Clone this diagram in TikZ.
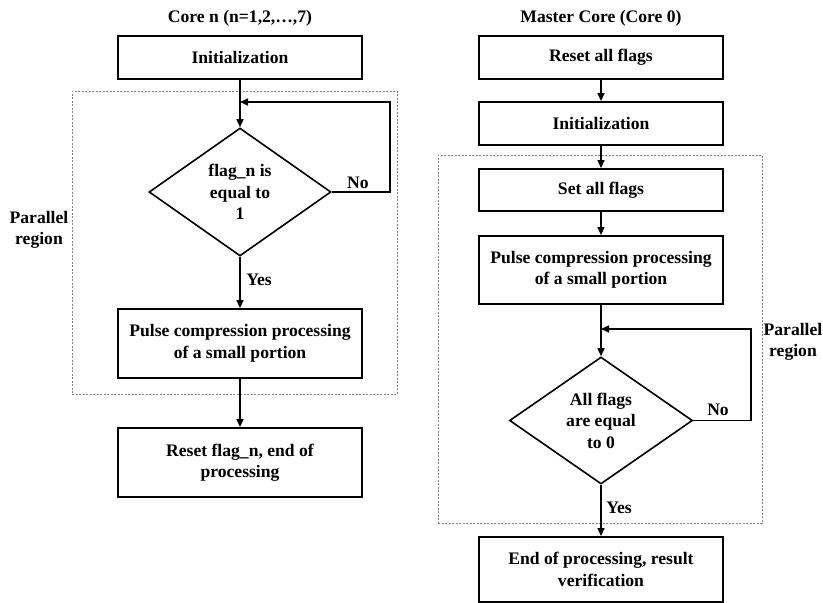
\documentclass[tikz,border=0pt]{standalone}
\usepackage{fontspec}
\setmainfont{Liberation Serif}
\usetikzlibrary{shapes.geometric,arrows.meta}
\begin{document}
\begin{tikzpicture}[x=1pt,y=-1pt,
  every node/.style={font=\fontsize{17.6}{21.5}\selectfont\bfseries},
  procbox/.style={draw,line width=1.9pt,minimum width=244pt,align=center,inner sep=0pt},
  decbox/.style={draw,diamond,line width=1.6pt,inner sep=0pt,aspect=1.42,align=center},
  region/.style={draw=gray,dash pattern=on 2pt off 1.5pt,line width=0.7pt},
  flow/.style={line width=1.6pt,-{Triangle[length=8pt,width=7pt]}},
  lbl/.style={inner sep=0pt}]
\useasboundingbox (0,0) rectangle (823,603);
% regions
\node[region,minimum width=325pt,minimum height=303pt,inner sep=0pt] (lreg) at (234.5,242.5) {};
\node[region,minimum width=324pt,minimum height=368pt,inner sep=0pt] (rreg) at (600,339) {};
% left column
\node[lbl] (ltitle) at (240,18) {Core n (n=1,2,\dots,7)};
\node[procbox,minimum height=43pt] (linit) at (240,57.5) {Initialization};
\node[decbox,minimum width=182pt,minimum height=128pt] (ldec) at (240,192) {flag\_n is\\equal to\\1};
\node[procbox,minimum height=69pt] (lpulse) at (240,343.5) {Pulse compression processing\\of a small portion};
\node[procbox,minimum height=69pt] (lreset) at (240,462.5) {Reset flag\_n, end of\\processing};
\node[lbl,align=center] (lpar) at (39,230) {Parallel\\region};
\coordinate (lcorner) at (390,102);
\coordinate (ljoin) at (240,102);
\draw[flow] (linit.south) -- (ldec.north);
\draw[flow] (ldec.east) -| (lcorner) -- (ljoin);
\draw[flow] (ldec.south) -- (lpulse.north);
\draw[flow] (lpulse.south) -- (lreset.north);
\node[lbl] (lno) at (358,183) {No};
\node[lbl] (lyes) at (259,280) {Yes};
% right column
\node[lbl] (rtitle) at (601,18) {Master Core (Core 0)};
\node[procbox,minimum height=43pt] (rreset) at (601,57.5) {Reset all flags};
\node[procbox,minimum height=43pt] (rinit) at (601,123.5) {Initialization};
\node[procbox,minimum height=42pt] (rset) at (601,190) {Set all flags};
\node[procbox,minimum height=68pt] (rpulse) at (601,270) {Pulse compression processing\\of a small portion};
\node[decbox,minimum width=183pt,minimum height=127pt] (rdec) at (601,420.5) {All flags\\are equal\\to 0};
\node[procbox,minimum height=65pt] (rend) at (601,569.5) {End of processing, result\\verification};
\node[lbl,align=center] (rpar) at (793,342) {Parallel\\region};
\coordinate (rcorner) at (751,329);
\coordinate (rjoin) at (601,329);
\draw[flow] (rreset.south) -- (rinit.north);
\draw[flow] (rinit.south) -- (rset.north);
\draw[flow] (rset.south) -- (rpulse.north);
\draw[flow] (rpulse.south) -- (rdec.north);
\draw[flow] (rdec.east) -| (rcorner) -- (rjoin);
\draw[flow] (rdec.south) -- (rend.north);
\node[lbl] (rno) at (718,410) {No};
\node[lbl] (ryes) at (619,508) {Yes};
\end{tikzpicture}
\end{document}
